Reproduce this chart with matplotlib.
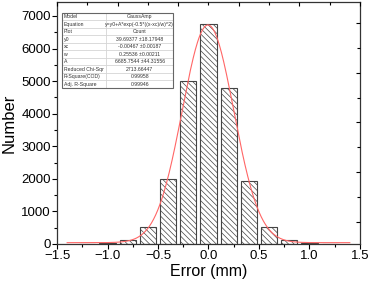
import numpy as np
import matplotlib
matplotlib.use("Agg")
import matplotlib.pyplot as plt
from matplotlib.ticker import MultipleLocator

plt.rcParams["font.family"] = ["Liberation Sans", "DejaVu Sans"]
plt.rcParams["hatch.linewidth"] = 0.5

# histogram of errors
bin_centers = [-1.2, -1.0, -0.8, -0.6, -0.4, -0.2, 0.0, 0.2, 0.4, 0.6, 0.8, 1.0, 1.2]
counts = [5, 25, 110, 510, 2000, 4990, 6750, 4790, 1940, 510, 120, 30, 5]

# GaussAmp fit parameters (from the inset table)
y0 = 39.69377
xc = -0.00467
w = 0.25536
A = 6685.7544

table_rows = [
    ["Model", "GaussAmp"],
    ["Equation", "y=y0+A*exp(-0.5*((x-xc)/w)^2)"],
    ["Plot", "Count"],
    ["y0", "39.69377 \u00b118.17948"],
    ["xc", "-0.00467 \u00b10.00187"],
    ["w", "0.25536 \u00b10.00211"],
    ["A", "6685.7544 \u00b144.31556"],
    ["Reduced Chi-Sqr", "2713.66447"],
    ["R-Square(COD)", "0.99958"],
    ["Adj. R-Square", "0.99946"],
]

fig = plt.figure(figsize=(3.68, 2.84), dpi=100)
ax = fig.add_axes([0.155, 0.141, 0.823, 0.852])

ax.bar(bin_centers, counts, width=0.16, color="white", edgecolor="#444444",
       linewidth=0.8, hatch="\\\\\\\\\\\\", zorder=2)

# fitted curve
x_fit = np.linspace(-1.4, 1.4, 400)
y_fit = y0 + A * np.exp(-0.5 * ((x_fit - xc) / w) ** 2)
ax.plot(x_fit, y_fit, color="#ff6666", lw=0.8, zorder=3)

ax.set_xlim(-1.5, 1.5)
ax.set_ylim(0, 7430)
ax.xaxis.set_major_locator(MultipleLocator(0.5))
ax.xaxis.set_minor_locator(MultipleLocator(0.25))
ax.yaxis.set_major_locator(MultipleLocator(1000))
ax.yaxis.set_minor_locator(MultipleLocator(500))
ax.tick_params(which="major", direction="out", length=3.5, width=0.8, labelsize=9.5, pad=1)
ax.tick_params(which="minor", direction="out", length=2, width=0.8)
ax.set_xlabel("Error (mm)", fontsize=11.5, labelpad=1)
ax.set_ylabel("Number", fontsize=12, labelpad=3)
for sp in ax.spines.values():
    sp.set_color("#333333")
    sp.set_linewidth(0.9)

# top / right axes with their own inward ticks
top = ax.twiny()
top.set_xlim(0, 10)
top.xaxis.set_major_locator(MultipleLocator(2))
top.xaxis.set_minor_locator(MultipleLocator(1))
top.tick_params(which="both", direction="in", labeltop=False, width=0.8)
top.tick_params(which="major", length=3)
top.tick_params(which="minor", length=2)
right = ax.twinx()
right.set_ylim(-0.9, 8.85)
right.yaxis.set_major_locator(MultipleLocator(2))
right.yaxis.set_minor_locator(MultipleLocator(1))
right.tick_params(which="both", direction="in", labelright=False, width=0.8)
right.tick_params(which="major", length=3)
right.tick_params(which="minor", length=2)
for a in (top, right):
    for sp in a.spines.values():
        sp.set_visible(False)

# inset fit-results table
tbl = ax.table(cellText=table_rows, cellLoc="center", colWidths=[0.146, 0.22],
               bbox=[0.017, 0.645, 0.366, 0.31], zorder=5)
tbl.auto_set_font_size(False)
for (r, c), cell in tbl.get_celld().items():
    cell.set_fontsize(3.7)
    cell.set_edgecolor("#cccccc")
    cell.set_linewidth(0.4)
    cell.set_facecolor("white")
    cell.get_text().set_color("#333333")
    if c == 0:
        cell.PAD = 0.03
        cell.get_text().set_horizontalalignment("left")
frame = plt.Rectangle((0.017, 0.645), 0.366, 0.31, transform=ax.transAxes,
                      fill=False, edgecolor="#666666", lw=0.8, zorder=6)
ax.add_patch(frame)

fig.savefig("out.png", dpi=100)
